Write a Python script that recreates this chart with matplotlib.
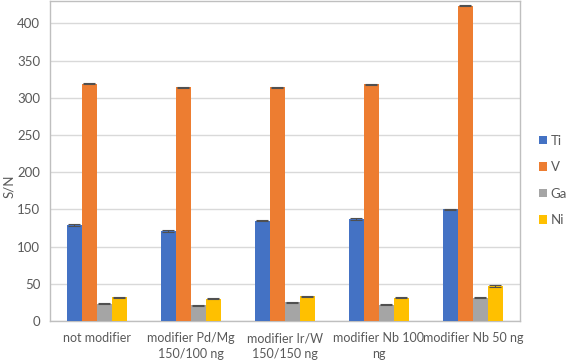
import numpy as np
import matplotlib.pyplot as plt

categories = ['not modifier', 'modifier Pd/Mg\n150/100 ng', 'modifier Ir/W\n150/150 ng',
              'modifier Nb 100\nng', 'modifier Nb 50 ng']
series = ['Ti', 'V', 'Ga', 'Ni']
ti = [129, 121, 135, 137, 150]
v = [319, 314, 314, 318, 424]
ga = [23, 21, 25, 22, 31]
ni = [32, 30, 33, 31, 47]
ti_err = [0.8, 0.8, 0.8, 0.8, 0.8]
v_err = [0.8, 0.8, 0.8, 0.8, 0.8]
ga_err = [0.8, 0.8, 0.8, 0.8, 0.8]
ni_err = [0.8, 0.8, 0.8, 0.8, 0.8]
colors = ['#4472C4', '#ED7D31', '#A5A5A5', '#FFC000']

plt.rcParams['font.family'] = ['Lato', 'DejaVu Sans']
text_color = '#595959'

fig = plt.figure(figsize=(5.67, 3.61), dpi=100)
ax = fig.add_axes([0.088, 0.111, 0.829, 0.886])

x = np.arange(len(categories))
w = 0.16
values = [ti, v, ga, ni]
errs = [ti_err, v_err, ga_err, ni_err]
for i, (name, vals, err) in enumerate(zip(series, values, errs)):
    ax.bar(x + (i - 1.5) * w, vals, w, color=colors[i], label=name,
           yerr=err, capsize=4, error_kw=dict(ecolor='#505050', elinewidth=0.8, capthick=0.8),
           zorder=3)

ax.set_xlim(-0.5, len(categories) - 0.5)
ax.set_ylim(0, 430)
ax.set_yticks(np.arange(0, 401, 50))
ax.set_xticks(x)
ax.set_xticklabels(categories, multialignment='center', linespacing=1.35)
ax.yaxis.grid(True, color='#D9D9D9', linewidth=1, zorder=0)
ax.tick_params(axis='x', length=0, labelsize=9, colors=text_color, pad=8)
ax.tick_params(axis='y', length=0, labelsize=9.5, colors=text_color, pad=7)
for s in ax.spines.values():
    s.set_color('#BFBFBF')
    s.set_linewidth(1)
ax.set_ylabel('S/N', fontsize=9.5, color=text_color)
ax.yaxis.set_label_coords(-0.075, 0.42)

leg = fig.legend(loc='center left', bbox_to_anchor=(0.950, 0.50), frameon=False,
                 fontsize=9.5, handlelength=0.6, handleheight=0.6, handletextpad=0.3,
                 labelspacing=1.1, borderaxespad=0, borderpad=0)
for t in leg.get_texts():
    t.set_color(text_color)

fig.savefig('out.png', dpi=100)
